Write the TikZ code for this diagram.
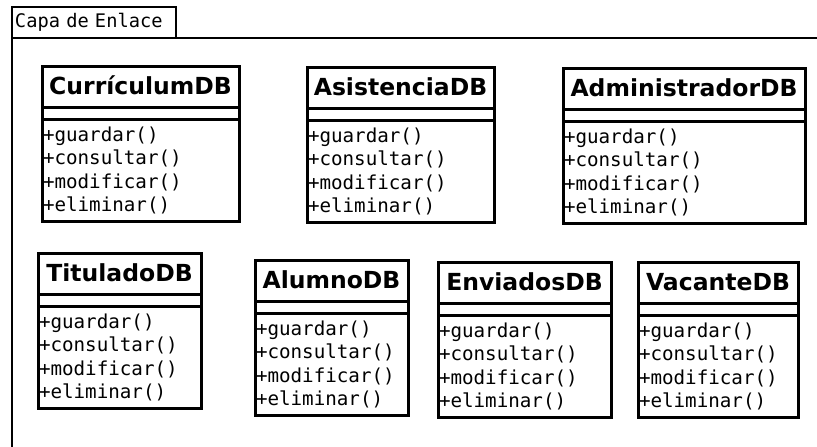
\documentclass[tikz,border=0pt]{standalone}
\usepackage{fontspec}
\setsansfont{DejaVu Sans}
\setmonofont{DejaVu Sans Mono}
\usetikzlibrary{positioning}
\tikzstyle{pkgtab} = [rectangle, draw=black, line width=2.2pt, outer sep=0pt, anchor=north west, minimum height=31pt, text width=158pt, inner xsep=3pt, align=left, font=\fontsize{18.7}{20}\ttfamily]
\tikzstyle{frame} = [line width=2.2pt]
\tikzstyle{classname} = [rectangle, draw=black, line width=3pt, outer sep=0pt, anchor=north west, minimum height=41pt, text height=20pt, text depth=3.2pt, inner xsep=0pt, font=\fontsize{23.5}{27}\sffamily\bfseries]
\tikzstyle{classattr} = [rectangle, draw=black, line width=3pt, outer sep=0pt, minimum height=12.5pt, inner sep=0pt]
\tikzstyle{classops} = [rectangle, draw=black, line width=3pt, outer sep=0pt, minimum height=101.5pt, inner xsep=1pt, inner ysep=0pt, align=left, font=\fontsize{19.2}{23.5}\ttfamily]
\newcommand{\crudops}{+guardar()\\+consultar()\\+modificar()\\+eliminar()}

\begin{document}
\begin{tikzpicture}[x=1pt, y=-1pt]
    \useasboundingbox (0,0) rectangle (817,447);
    % package frame
    \node (tab) [pkgtab] at (12,7) {Capa de Enlace};
    \coordinate (frameend) at (817,38);
    \coordinate (framebottom) at (12,447);
    \draw [frame] (tab.south west) -- (frameend);
    \draw [frame] (tab.north west) -- (framebottom);

    % first row
    \node (curr) [classname, minimum width=197pt] at (42,66) {CurrículumDB};
    \node (curr-attr) [classattr, minimum width=197pt, below=0pt of curr] {};
    \node (curr-ops) [classops, text width=195pt, below=0pt of curr-attr] {\crudops};

    \node (asist) [classname, minimum width=187pt] at (307,67) {AsistenciaDB};
    \node (asist-attr) [classattr, minimum width=187pt, below=0pt of asist] {};
    \node (asist-ops) [classops, text width=185pt, below=0pt of asist-attr] {\crudops};

    \node (admin) [classname, minimum width=242pt] at (563,68) {AdministradorDB};
    \node (admin-attr) [classattr, minimum width=242pt, below=0pt of admin] {};
    \node (admin-ops) [classops, text width=240pt, below=0pt of admin-attr] {\crudops};

    % second row
    \node (titul) [classname, minimum width=163pt] at (38,253) {TituladoDB};
    \node (titul-attr) [classattr, minimum width=163pt, below=0pt of titul] {};
    \node (titul-ops) [classops, text width=161pt, below=0pt of titul-attr] {\crudops};

    \node (alumno) [classname, minimum width=153pt] at (255,260) {AlumnoDB};
    \node (alumno-attr) [classattr, minimum width=153pt, below=0pt of alumno] {};
    \node (alumno-ops) [classops, text width=151pt, below=0pt of alumno-attr] {\crudops};

    \node (envia) [classname, minimum width=173pt] at (438,262) {EnviadosDB};
    \node (envia-attr) [classattr, minimum width=173pt, below=0pt of envia] {};
    \node (envia-ops) [classops, text width=171pt, below=0pt of envia-attr] {\crudops};

    \node (vacante) [classname, minimum width=160pt] at (638,262) {VacanteDB};
    \node (vacante-attr) [classattr, minimum width=160pt, below=0pt of vacante] {};
    \node (vacante-ops) [classops, text width=158pt, below=0pt of vacante-attr] {\crudops};
\end{tikzpicture}
\end{document}
